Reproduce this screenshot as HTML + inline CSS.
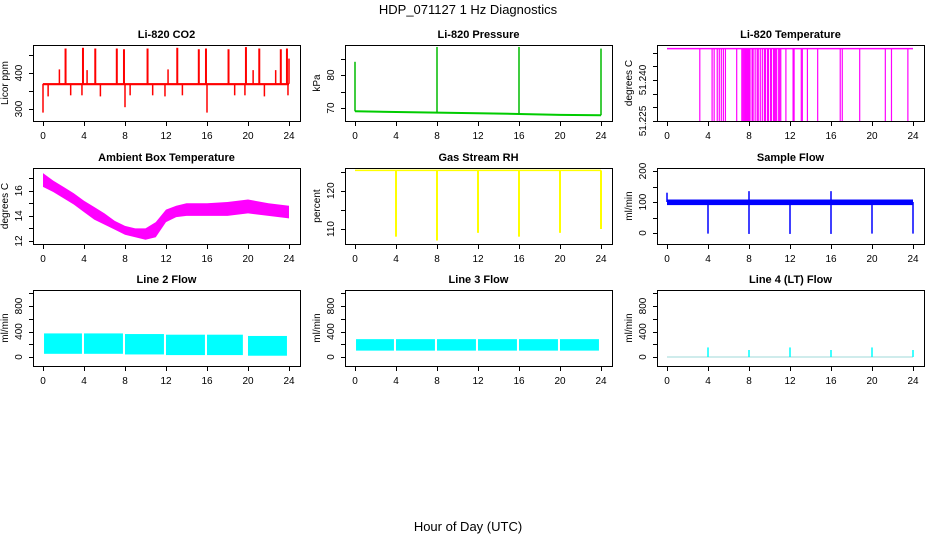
<!DOCTYPE html>
<html><head><meta charset="utf-8"><style>
body{margin:0;background:#fff;}
svg{display:block;font-family:"Liberation Sans",sans-serif;}
</style></head><body>
<svg id="c" width="936" height="540" xmlns="http://www.w3.org/2000/svg">
<text x="468" y="14" text-anchor="middle" font-size="13">HDP_071127  1 Hz Diagnostics</text>
<text x="468" y="531" text-anchor="middle" font-size="13">Hour of Day (UTC)</text>
</svg>
<script>
// ---- data ----
const xTicks = [0,4,8,12,16,20,24];
const co2Base = [366,372];
const co2UpH = [2.2,3.9,5.1,7.2,7.9,10.2,13.1,15.2,15.9,18.1,19.8,21.1,23.2,23.8];
const co2UpV = [468,470,468,468,466,468,470,466,468,466,472,468,466,468];
const co2SmH = [1.6,4.3,12.2,20.5,22.7,24.0];
const co2SmV = [410,408,410,408,408,440];
const co2DipH = [0.0,0.5,2.7,3.8,5.6,8.0,8.5,10.7,11.9,13.6,16.0,18.7,19.7,21.6,23.9];
const co2DipV = [290,335,338,338,335,305,338,338,335,338,290,338,338,335,338];
const presH = [0,4,8,12,16,20,24];
const presV = [69,68.8,68.6,68.4,68.2,67.9,67.8];
const presSpH = [0,8,16,24];
const presSpV = [84,88.5,88.5,88];
const tempTop = 51.2515;
const tempDropH = [3.2,4.4,4.6,4.9,5.1,5.3,5.5,5.7,6.8,7.3,7.4,7.5,7.6,7.7,7.8,7.9,8.0,8.1,8.3,8.4,8.6,8.8,8.9,9.1,9.3,9.5,9.6,9.8,9.9,10.1,10.2,10.4,10.5,10.6,10.7,10.9,11.0,11.1,11.6,12.3,12.4,13.1,13.2,13.7,14.7,16.9,17.1,18.8,21.3,21.9,23.5];
const ambH = [0,1,2,3,4,5,6,7,8,9,10,11,12,13,14,16,18,20,22,24];
const ambLo = [16.3,15.9,15.4,14.9,14.3,13.7,13.3,12.9,12.5,12.3,12.1,12.3,13.5,13.9,14.0,14.0,14.0,14.2,14.0,13.8];
const ambHi = [17.4,16.8,16.3,15.8,15.2,14.7,14.2,13.6,13.2,13.0,13.0,13.5,14.5,14.8,15.0,15.0,15.1,15.3,15.0,14.8];
const rhTop = 125.3;
const rhDropH = [4,8,12,16,20,24];
const rhDropV = [108,107,109,108,109,110];
const sfBand = [90,108];
const sfDropH = [4,8,12,16,20,24];
const sfDropV = [-2,-3,-3,-3,-2,-2];
const sfSpH = [0,8,16];
const sfSpV = [130,135,135];
const l2Start = [0.1,4.0,8.0,12.0,16.0,20.0];
const l2End = [3.8,7.8,11.8,15.8,19.5,23.8];
const l2Lo = [50,50,40,30,30,20];
const l2Hi = [370,370,360,350,350,330];
const l3Start = [0.1,4.0,8.0,12.0,16.0,20.0];
const l3End = [3.8,7.8,11.8,15.8,19.8,23.8];
const l3Lo = [100,100,100,100,100,100];
const l3Hi = [280,280,280,280,280,280];
const l4SpH = [4,8,12,16,20,24];
const l4SpV = [150,110,150,110,150,110];

const svg = document.getElementById('c');
const NS = 'http://www.w3.org/2000/svg';
function mk(tag, attrs, parent){const e=document.createElementNS(NS,tag);for(const k in attrs)e.setAttribute(k,attrs[k]);(parent||svg).appendChild(e);return e;}

const colL=[33,345,657], rowT=[45,168,290], W=267, H=76;
function panel(i,title,ylab,cal,ticks,labels,slug){
  const L=colL[i%3], T=rowT[Math.floor(i/3)];
  const g=mk('g',{});
  
  
  const x=h=>L+10+h*(246/24);
  const y=v=>T+cal[1]+(v-cal[0])*(cal[3]-cal[1])/(cal[2]-cal[0]);
  const t=mk('text',{x:L+W/2,y:T-7,'text-anchor':'middle','font-size':11,'font-weight':'bold'},g);
  t.textContent=title;
  
  
  const box=mk('rect',{x:L+.5,y:T+.5,width:W,height:H,fill:'none',stroke:'#000'},g);
  
  
  const xa=mk('g',{},g);
  
  
  mk('line',{x1:x(0),x2:x(24),y1:T+H+.5,y2:T+H+.5,stroke:'#000'},xa);
  xTicks.forEach(h=>{
    mk('line',{x1:Math.round(x(h))+.5,x2:Math.round(x(h))+.5,y1:T+H,y2:T+H+5,stroke:'#000'},xa);
    const tx=mk('text',{x:x(h),y:T+H+18,'text-anchor':'middle','font-size':10},xa);
    tx.textContent=h;
  });
  const ya=mk('g',{},g);
  
  
  mk('line',{x1:L+.5,x2:L+.5,y1:y(ticks[0]),y2:y(ticks[ticks.length-1]),stroke:'#000'},ya);
  ticks.forEach(v=>{
    const yy=Math.round(y(v))+.5;
    mk('line',{x1:L-4,x2:L,y1:yy,y2:yy,stroke:'#000'},ya);
  });
  labels.forEach(v=>{
    const yy=y(+v);
    const tx=mk('text',{x:L-11,y:yy,'text-anchor':'middle','font-size':10,transform:`rotate(-90 ${L-11} ${yy})`},ya);
    tx.textContent=v;
  });
  const yt=mk('text',{x:L-25,y:T+H/2,'text-anchor':'middle','font-size':10,transform:`rotate(-90 ${L-25} ${T+H/2})`},g);
  yt.textContent=ylab;
  
  
  const d=mk('g',{},g);
  
  
  return {x,y,d};
}
function vline(p,h,v1,v2,col,w){mk('line',{x1:p.x(h),x2:p.x(h),y1:p.y(v1),y2:p.y(v2),stroke:col,'stroke-width':w||1.5},p.d);}
function band(p,h1,h2,lo,hi,col){mk('rect',{x:p.x(h1),y:p.y(hi),width:p.x(h2)-p.x(h1),height:p.y(lo)-p.y(hi),fill:col},p.d);}

let p=panel(0,'Li-820 CO2','Licor ppm',[300,64,400,28],[300,350,400,450],[300,400],'co2');
band(p,0,24,co2Base[0],co2Base[1],'#ff0000');
co2UpH.forEach((h,i)=>vline(p,h,370,co2UpV[i],'#ff0000',2));
co2SmH.forEach((h,i)=>vline(p,h,370,co2SmV[i],'#ff0000',1.5));
co2DipH.forEach((h,i)=>vline(p,h,370,co2DipV[i],'#ff0000',1.5));

p=panel(1,'Li-820 Pressure','kPa',[70,63,80,30],[70,75,80,85],[70,80],'pressure');
mk('polyline',{points:presH.map((h,i)=>p.x(h)+','+p.y(presV[i])).join(' '),fill:'none',stroke:'#00cc00','stroke-width':2},p.d);
presSpH.forEach((h,i)=>vline(p,h,presV[presH.indexOf(h)],presSpV[i],'#00bb00',1.5));

p=panel(2,'Li-820 Temperature','degrees C',[51.225,76,51.240,35],[51.225,51.230,51.235,51.240,51.245,51.250],['51.225','51.240'],'temperature');
mk('line',{x1:p.x(0),x2:p.x(24),y1:p.y(tempTop),y2:p.y(tempTop),stroke:'#ff00ff','stroke-width':1.5},p.d);
tempDropH.forEach(h=>vline(p,h,tempTop,51.225,'#ff00ff',1.2));

p=panel(3,'Ambient Box Temperature','degrees C',[12,73,16,22.7],[12,13,14,15,16,17],[12,14,16],'ambient-temp');
mk('polygon',{points:ambH.map((h,i)=>p.x(h)+','+p.y(ambHi[i])).concat(ambH.slice().reverse().map((h,j)=>p.x(h)+','+p.y(ambLo[ambH.length-1-j]))).join(' '),fill:'#ff00ff'},p.d);

p=panel(4,'Gas Stream RH','percent',[110,61,120,22.7],[110,115,120,125],[110,120],'gas-rh');
mk('line',{x1:p.x(0),x2:p.x(24),y1:p.y(rhTop),y2:p.y(rhTop),stroke:'#ffff00','stroke-width':1.5},p.d);
rhDropH.forEach((h,i)=>vline(p,h,rhTop,rhDropV[i],'#ffff00',2));

p=panel(5,'Sample Flow','ml/min',[0,65,200,3],[0,50,100,150,200],[0,100,200],'sample-flow');
band(p,0,24,sfBand[0],sfBand[1],'#0000ff');
sfDropH.forEach((h,i)=>vline(p,h,100,sfDropV[i],'#0000ff',1.5));
sfSpH.forEach((h,i)=>vline(p,h,100,sfSpV[i],'#0000ff',1.5));

const fc=[0,67,800,16], ft=[0,200,400,600,800,1000], fl=[0,400,800];
p=panel(6,'Line 2 Flow','ml/min',fc,ft,fl,'line2-flow');
l2Start.forEach((s,i)=>band(p,s,l2End[i],l2Lo[i],l2Hi[i],'#00ffff'));
p=panel(7,'Line 3 Flow','ml/min',fc,ft,fl,'line3-flow');
l3Start.forEach((s,i)=>band(p,s,l3End[i],l3Lo[i],l3Hi[i],'#00ffff'));
p=panel(8,'Line 4 (LT) Flow','ml/min',fc,ft,fl,'line4-flow');
mk('line',{x1:p.x(0),x2:p.x(24),y1:p.y(0),y2:p.y(0),stroke:'#9fd8d8','stroke-width':1},p.d);
l4SpH.forEach((h,i)=>vline(p,h,0,l4SpV[i],'#00ffff',1.5));
</script>
</body></html>
